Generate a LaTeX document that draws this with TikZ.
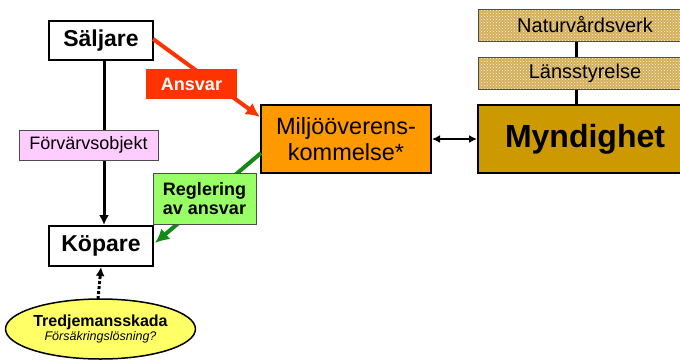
\documentclass[tikz,border=0pt]{standalone}
\usepackage{fontspec}
\setmainfont{Liberation Sans}
\usetikzlibrary{arrows.meta,shapes.geometric,patterns}
\definecolor{redarr}{HTML}{FF3300}
\definecolor{orangebox}{HTML}{FF9900}
\definecolor{myndbox}{HTML}{CC9900}
\definecolor{greenbox}{HTML}{99FF66}
\definecolor{greenarr}{HTML}{138A13}
\definecolor{pinkbox}{HTML}{FFCCFF}
\definecolor{yellowell}{HTML}{FFFF66}
\definecolor{tanbase}{HTML}{D4AE58}
\tikzset{
  box/.style={draw=black, line width=2pt, rectangle, inner sep=0pt, align=center},
  thinbox/.style={draw=black!70, line width=1pt, rectangle, inner sep=0pt, align=center},
  patbox/.style={draw=black!70, line width=1pt, rectangle, inner sep=0pt,
    preaction={fill=tanbase}, pattern=crosshatch dots, pattern color=white!90!tanbase},
  fs/.style 2 args={font=\fontsize{#1}{#2}\selectfont}
}
\begin{document}
\begin{tikzpicture}[x=1pt,y=-1pt]
\useasboundingbox (0,0) rectangle (680,360);
\fill[white] (0,0) rectangle (680,360);

% right side
\node[patbox, minimum width=214, minimum height=32] (nat) at (585,25) {};
\node[fs={20}{23}] at (nat.center) {Naturvårdsverk};
\node[patbox, minimum width=214, minimum height=32] (lan) at (585,73) {};
\node[fs={20}{23}] at (lan.center) {Länsstyrelse};
\node[box, fill=myndbox, minimum width=214, minimum height=68, fs={32}{36}] (mynd) at (585,139) {\bfseries Myndighet};
\coordinate (vx) at (576,0);
\draw[line width=3pt] (vx |- nat.south) -- (vx |- lan.north);
\draw[line width=3pt] (vx |- lan.south) -- (vx |- mynd.north);

% left side
\node[box, fill=white, minimum width=104, minimum height=39, fs={23}{26}] (sal) at (101,40.5) {\bfseries Säljare};
\node[box, fill=white, minimum width=104, minimum height=40, fs={23}{26}] (kop) at (101,246) {\bfseries Köpare};
\coordinate (lx) at (104,0);
\draw[line width=3pt, -{Latex[length=10pt,width=10pt]}] (lx |- sal.south) -- (lx |- kop.north);
\node[thinbox, fill=pinkbox, minimum width=139, minimum height=30, fs={18}{21}] (forv) at (88.5,145) {Förvärvsobjekt};

\node[box, fill=orangebox, minimum width=170, minimum height=68, fs={23.5}{27}] (milj) at (346,139) {Miljööverens-\\[-1pt]kommelse*};

% red arrow
\coordinate (rs) at (153,39);
\coordinate (re) at (260,117);
\draw[redarr, line width=4pt, -{Latex[length=14pt,width=14pt]}] (rs) -- (re);
\node[rectangle, fill=redarr, minimum width=91, minimum height=30, inner sep=0pt, text=white, fs={18}{21}] (ans) at (191.5,84) {\bfseries Ansvar};

% green arrow
\coordinate (gs) at (261,153);
\coordinate (ge) at (155,243);
\draw[greenarr, line width=4pt, -{Latex[length=14pt,width=14pt]}] (gs) -- (ge);
\node[thinbox, fill=greenbox, minimum width=103, minimum height=51, fs={18}{21}] (reg) at (204.5,198.5) {\bfseries Reglering\\[-2pt]\bfseries av ansvar};

% double arrow
\draw[line width=2pt, {Latex[length=8pt,width=8pt]}-{Latex[length=8pt,width=8pt]}] (milj.east) -- (mynd.west);

% ellipse
\node[ellipse, draw=black, line width=1.5pt, fill=yellowell, minimum width=175, minimum height=60, inner sep=0pt, align=center] (tred) at (100.5,329) {\fontsize{16}{18}\selectfont\bfseries Tredjemansskada\\[1pt]\fontsize{12.5}{14}\selectfont\itshape Försäkringslösning?};
\coordinate (ds) at (98,299);
\draw[line width=3pt, dotted, -{Latex[length=9pt,width=9pt]}] (ds) -- (kop.south);
\end{tikzpicture}
\end{document}
